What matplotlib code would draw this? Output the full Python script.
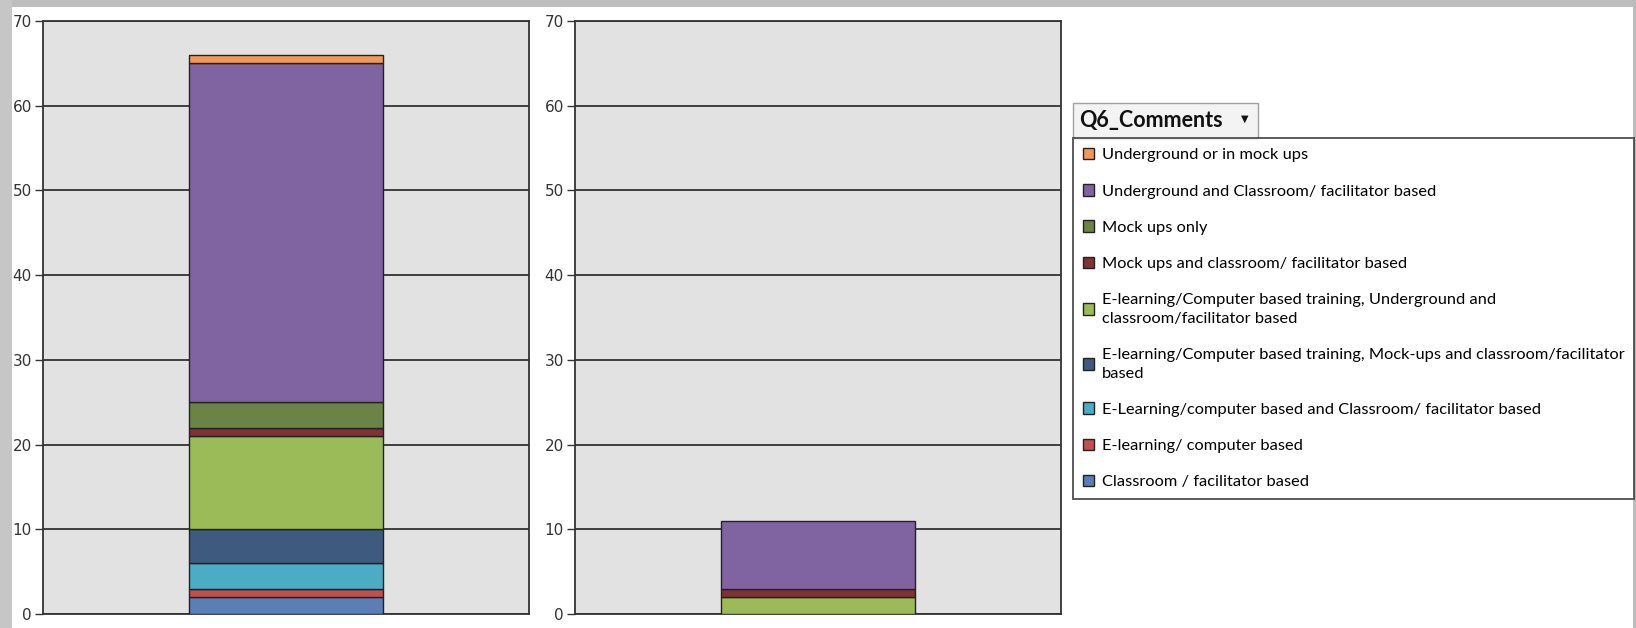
"""Stacked bar panels for Q6 comments, Excel pivot-chart look."""

import matplotlib

matplotlib.use("Agg")
from matplotlib import pyplot as plt
from matplotlib.patches import Patch, Rectangle

# Categories from bottom of stack to top
categories = [
    "Classroom / facilitator based",
    "E-learning/ computer based",
    "E-Learning/computer based and Classroom/ facilitator based",
    "E-learning/Computer based training, Mock-ups and classroom/facilitator\nbased",
    "E-learning/Computer based training, Underground and\nclassroom/facilitator based",
    "Mock ups and classroom/ facilitator based",
    "Mock ups only",
    "Underground and Classroom/ facilitator based",
    "Underground or in mock ups",
]
colors = [
    "#5A7FB6",
    "#C0504D",
    "#4BACC6",
    "#3E5A7F",
    "#9BBB59",
    "#7F3335",
    "#6B8347",
    "#8064A2",
    "#F1995B",
]
left_values = [2, 1, 3, 4, 11, 1, 3, 40, 1]
right_values = [0, 0, 0, 0, 2, 1, 0, 8, 0]
y_ticks = [0, 10, 20, 30, 40, 50, 60, 70]
legend_title = "Q6_Comments"

W, H = 1636, 628


def px_box(x0, y0, x1, y1):
    """Convert a pixel box (top-left origin) into figure fractions."""
    return [x0 / W, 1 - y1 / H, (x1 - x0) / W, (y1 - y0) / H]


def draw_panel(ax, values):
    bottom = 0.0
    for value, color in zip(values, colors):
        if value > 0:
            ax.bar(0, value, width=0.4, bottom=bottom, color=color,
                   edgecolor="#222222", linewidth=1.0, zorder=3)
        bottom += value
    ax.set_xlim(-0.5, 0.5)
    ax.set_ylim(0, 70)
    ax.set_yticks(y_ticks)
    ax.set_xticks([])
    ax.set_facecolor("#E2E2E2")
    ax.grid(True, axis="y", color="#222222", linewidth=1.2, zorder=1)
    ax.set_axisbelow(True)
    for spine in ax.spines.values():
        spine.set_color("#333333")
        spine.set_linewidth(1.3)
    ax.tick_params(axis="y", length=6, width=1.0, color="#333333",
                   labelsize=11, labelcolor="#333333", pad=2)


fig = plt.figure(figsize=(W / 100, H / 100), dpi=100)
fig.patch.set_facecolor("white")

ax_left = fig.add_axes(px_box(43, 21, 529, 614))
ax_right = fig.add_axes(px_box(575, 21, 1061, 614))
draw_panel(ax_left, left_values)
draw_panel(ax_right, right_values)

# screenshot frame
for box, shade in [
    ((0, 0, W, 7), "#BEBEBE"),
    ((0, 0, 12, H), "#C6C6C6"),
    ((1633, 0, W, H), "#BBBBBB"),
]:
    x, y, w, h = px_box(*box)
    fig.add_artist(Rectangle((x, y), w, h, transform=fig.transFigure,
                             facecolor=shade, edgecolor="none", zorder=0))

# legend, top entry first
handles = [Patch(facecolor=c, edgecolor="#222222", linewidth=1.0)
           for c in colors[::-1]]
leg = fig.legend(
    handles, categories[::-1],
    loc="upper left", bbox_to_anchor=(1073 / W, 1 - 138 / H),
    prop={"family": "Lato", "size": 11.8},
    frameon=True, fancybox=False, edgecolor="#333333",
    handlelength=0.7, handleheight=0.7, handletextpad=0.45,
    labelspacing=1.33, borderpad=0.6, borderaxespad=0,
)
leg.get_frame().set_linewidth(1.4)
for t in leg.get_texts():
    t.set_linespacing(1.45)

# pivot field button above the legend
x, y, w, h = px_box(1073, 103, 1258, 139)
fig.add_artist(Rectangle((x, y), w, h, transform=fig.transFigure,
                         facecolor="#F3F3F3", edgecolor="#A0A0A0", linewidth=1.0))
fig.text(1079 / W, 1 - 121 / H, legend_title, family="Lato", weight="bold",
         size=15.5, va="center", ha="left", color="#111111")
fig.text(1245 / W, 1 - 119 / H, "\u25bc", family="DejaVu Sans", size=7,
         va="center", ha="center", color="#111111")

fig.savefig("out.png", dpi=100)
